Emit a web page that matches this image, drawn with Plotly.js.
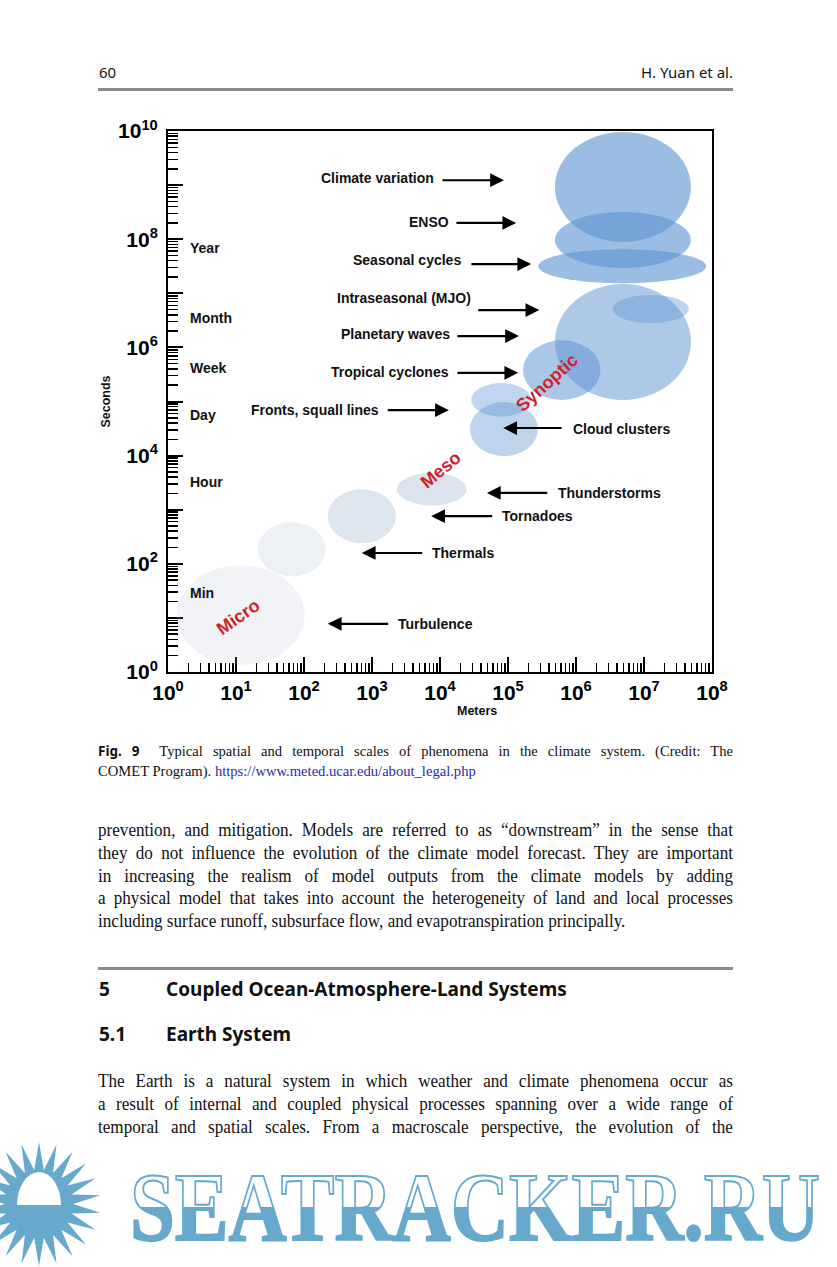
<!DOCTYPE html>
<html>
<head>
<meta charset="utf-8">
<script src="https://cdn.plot.ly/plotly-3.0.1.min.js"></script>
<style>
  html, body { margin:0; padding:0; background:#fff; }
  body { width:837px; height:1267px; position:relative; overflow:hidden; }
  #chart { position:absolute; left:0; top:0; width:837px; height:725px; }
  .abs { position:absolute; }
  .sans { font-family:"Noto Sans","Open Sans",sans-serif; color:#111; }
  .serif { font-family:"Liberation Serif","DejaVu Serif",serif; color:#111; }
  .rule { position:absolute; left:98px; width:635px; height:3px; background:#8a8a8a; }
  .jl { text-align:justify; text-align-last:justify; white-space:nowrap; }
  .para { transform:scaleX(0.9); transform-origin:0 0; width:705.5px; }
  .para div { height:22.75px; line-height:22.75px; }
</style>
</head>
<body>
<div class="abs sans" style="left:99px; top:62px; font-size:15px;">60</div>
<div class="abs sans" style="right:104px; top:62px; font-size:15px;">H. Yuan et al.</div>
<div class="rule" style="top:88px;"></div>

<div id="chart"></div>

<div class="abs serif" style="left:98px; top:741px; width:635px; font-size:14.6px; line-height:20px;">
  <div class="jl" style="white-space:normal;"><span class="sans" style="font-weight:bold; font-size:13.5px;">Fig. 9</span>&nbsp; Typical spatial and temporal scales of phenomena in the climate system. (Credit: The</div>
  <div>COMET Program). <span style="color:#2a2aa8;">https://www.meted.ucar.edu/about_legal.php</span></div>
</div>

<div class="abs serif para" style="left:98px; top:819px; font-size:19px;">
  <div class="jl">prevention, and mitigation. Models are referred to as “downstream” in the sense that</div>
  <div class="jl">they do not influence the evolution of the climate model forecast. They are important</div>
  <div class="jl">in increasing the realism of model outputs from the climate models by adding</div>
  <div class="jl">a physical model that takes into account the heterogeneity of land and local processes</div>
  <div>including surface runoff, subsurface flow, and evapotranspiration principally.</div>
</div>

<div class="rule" style="top:967px;"></div>
<div class="abs sans" style="left:99px; top:976px; font-size:19px; font-weight:bold;">5</div>
<div class="abs sans" style="left:166px; top:976px; font-size:19px; font-weight:bold;">Coupled Ocean-Atmosphere-Land Systems</div>
<div class="abs sans" style="left:99px; top:1021px; font-size:19px; font-weight:bold;">5.1</div>
<div class="abs sans" style="left:166px; top:1021px; font-size:19px; font-weight:bold;">Earth System</div>

<div class="abs serif para" style="left:98px; top:1070px; font-size:19px;">
  <div class="jl">The Earth is a natural system in which weather and climate phenomena occur as</div>
  <div class="jl">a result of internal and coupled physical processes spanning over a wide range of</div>
  <div class="jl">temporal and spatial scales. From a macroscale perspective, the evolution of the</div>
</div>

<svg class="abs" style="left:0; top:1140px;" width="837" height="127" id="wm">
  <defs>
    <linearGradient id="half" x1="0" y1="0" x2="0" y2="1">
      <stop offset="0.5" stop-color="#ffffff"/>
      <stop offset="0.5" stop-color="#66a9cd"/>
    </linearGradient>
  </defs>
  <g id="sun"></g>
  <text x="130" y="100" font-family="Liberation Serif, serif" font-weight="bold" font-size="98"
        textLength="690" lengthAdjust="spacingAndGlyphs"
        fill="url(#half)" stroke="#66a9cd" stroke-width="2">SEATRACKER.RU</text>
</svg>

<script>
// ---------- DATA ----------
const xTickExponents = [0, 1, 2, 3, 4, 5, 6, 7, 8];          // Meters: 10^0 .. 10^8
const yTickExponents = [0, 1, 2, 3, 4, 5, 6, 7, 8, 9, 10];   // Seconds: 10^0 .. 10^10
const yLabelledExponents = [0, 2, 4, 6, 8, 10];

const phenomena = ['Climate variation', 'ENSO', 'Seasonal cycles', 'Planetary waves',
  'Intraseasonal (MJO)', 'Tropical cyclones', 'Fronts, squall lines', 'Cloud clusters',
  'Thunderstorms', 'Tornadoes', 'Thermals', 'Turbulence'];
// log10(meters) centre and half-span, log10(seconds) centre and half-span
const logLengthCenter   = [6.69, 6.69, 6.68, 6.69, 7.10, 5.79, 4.90, 4.94, 3.88, 2.85, 1.82, 1.07];
const logLengthHalfSpan = [1.00, 1.00, 1.235, 1.00, 0.56, 0.57, 0.44, 0.50, 0.515, 0.50, 0.50, 0.94];
const logTimeCenter     = [8.965, 7.985, 7.50, 6.10, 6.71, 5.58, 5.03, 4.49, 3.38, 2.88, 2.27, 1.05];
const logTimeHalfSpan   = [1.017, 0.518, 0.314, 1.07, 0.26, 0.55, 0.31, 0.50, 0.30, 0.50, 0.50, 0.92];

const timeUnits = ['Year', 'Month', 'Week', 'Day', 'Hour', 'Min'];
const scaleRegimes = ['Micro', 'Meso', 'Synoptic'];

// ---------- STYLES / LABEL PLACEMENT ----------
const ellipseFill = ['rgba(93,148,210,0.62)', 'rgba(93,148,210,0.62)', 'rgba(93,148,210,0.62)',
  'rgba(93,148,210,0.50)', 'rgba(93,148,210,0.40)', 'rgba(93,148,210,0.52)',
  'rgba(93,148,210,0.38)', 'rgba(93,148,210,0.40)', 'rgba(150,175,210,0.35)',
  'rgba(150,175,205,0.32)', 'rgba(170,185,210,0.21)', 'rgba(170,185,210,0.17)'];
// label anchor (log m, log s), side of text relative to anchor, arrow tail/head (log m)
const labelX    = [3.94, 4.16, 4.34, 4.18, 4.49, 4.16, 3.13, 5.93, 5.71, 4.88, 3.85, 3.35];
const labelY    = [9.13, 8.32, 7.62, 6.24, 6.91, 5.55, 4.84, 4.49, 3.31, 2.88, 2.20, 0.89];
const labelSide = ['right','right','right','right','right','right','right','left','left','left','left','left'];
const arrowTailX = [4.015, 4.22, 4.44, 4.235, 4.54, 4.235, 3.21, 5.81, 5.60, 4.79, 3.76, 3.26];
const arrowHeadX = [4.94, 5.12, 5.34, 5.16, 5.46, 5.15, 4.13, 4.93, 4.69, 3.87, 2.85, 2.35];
const arrowY     = [9.09, 8.30, 7.54, 6.21, 6.69, 5.53, 4.84, 4.51, 3.31, 2.88, 2.20, 0.89];
const unitY = [7.84, 6.54, 5.62, 4.75, 3.51, 1.46];
const regimeX = [1.03, 4.01, 5.57], regimeY = [1.02, 3.73, 5.34], regimeAngle = [-35, -40, -42];

const sup = e => '10<sup>' + e + '</sup>';
function minorVals(exps) {
  const v = [];
  exps.slice(0, -1).forEach(e => { for (let d = 2; d <= 9; d++) v.push(d * Math.pow(10, e)); });
  return v;
}

const shapes = phenomena.map((p, i) => ({
  type: 'circle', xref: 'x', yref: 'y', layer: 'above',
  x0: Math.pow(10, logLengthCenter[i] - logLengthHalfSpan[i]),
  x1: Math.pow(10, logLengthCenter[i] + logLengthHalfSpan[i]),
  y0: Math.pow(10, logTimeCenter[i] - logTimeHalfSpan[i]),
  y1: Math.pow(10, logTimeCenter[i] + logTimeHalfSpan[i]),
  fillcolor: ellipseFill[i], line: { width: 0 }
}));

const labFont = { family: 'Liberation Sans, Arial, sans-serif', size: 14, color: '#111' };
const annotations = [];
phenomena.forEach((p, i) => {
  annotations.push({ x: labelX[i], y: labelY[i], xref: 'x', yref: 'y', text: '<b>' + p + '</b>',
    showarrow: false, xanchor: labelSide[i], yanchor: 'middle', font: labFont });
  annotations.push({ x: arrowHeadX[i], y: arrowY[i], ax: arrowTailX[i], ay: arrowY[i],
    xref: 'x', yref: 'y', axref: 'x', ayref: 'y', text: '', showarrow: true,
    arrowhead: 2, arrowsize: 1.25, arrowwidth: 2.2, arrowcolor: '#000', standoff: 0 });
});
timeUnits.forEach((u, i) => annotations.push({ x: 0.29, y: unitY[i], xref: 'x', yref: 'y',
  text: '<b>' + u + '</b>', showarrow: false, xanchor: 'left', font: labFont }));
scaleRegimes.forEach((r, i) => annotations.push({ x: regimeX[i], y: regimeY[i], xref: 'x', yref: 'y',
  text: '<b>' + r + '</b>', showarrow: false, textangle: regimeAngle[i],
  font: { family: 'Liberation Sans, Arial, sans-serif', size: 18, color: '#d21f2b' } }));
annotations.push({ x: 0.568, y: -0.088, xref: 'paper', yref: 'paper', text: '<b>Meters</b>',
  showarrow: false, font: { family: 'Liberation Sans, Arial, sans-serif', size: 12.5, color: '#111' } });

const tickFont = { family: 'Liberation Sans, Arial, sans-serif', size: 21, color: '#000', weight: 'bold' };
const axisCommon = {
  type: 'log', showline: true, linecolor: '#000', linewidth: 2, mirror: true,
  showgrid: false, zeroline: false, ticks: 'inside', ticklen: 15, tickwidth: 2, tickcolor: '#000',
  tickmode: 'array', tickfont: tickFont, fixedrange: true
};

const layout = {
  width: 837, height: 725,
  margin: { l: 168, r: 125, t: 131, b: 53 },
  paper_bgcolor: 'rgba(0,0,0,0)', plot_bgcolor: '#fff',
  showlegend: false,
  xaxis: Object.assign({}, axisCommon, {
    range: [0, 8], tickvals: xTickExponents.map(e => Math.pow(10, e)),
    ticktext: xTickExponents.map(sup), ticklabelstandoff: 1,
    minor: { tickmode: 'array', tickvals: minorVals(xTickExponents), ticks: 'inside',
      ticklen: 9, tickwidth: 1.5, tickcolor: '#000', showgrid: false }
  }),
  yaxis: Object.assign({}, axisCommon, {
    range: [0, 10], tickvals: yTickExponents.map(e => Math.pow(10, e)),
    ticktext: yTickExponents.map(e => yLabelledExponents.includes(e) ? sup(e) : ''),
    ticklabelstandoff: 4,
    title: { text: '<b>Seconds</b>', standoff: 5,
      font: { family: 'Liberation Sans, Arial, sans-serif', size: 12.5, color: '#111' } },
    minor: { tickmode: 'array', tickvals: minorVals(yTickExponents), ticks: 'inside',
      ticklen: 10, tickwidth: 1.5, tickcolor: '#000', showgrid: false }
  }),
  shapes: shapes,
  annotations: annotations
};

const trace = {
  type: 'scatter', mode: 'markers',
  x: logLengthCenter.map(v => Math.pow(10, v)),
  y: logTimeCenter.map(v => Math.pow(10, v)),
  text: phenomena, marker: { size: 1, opacity: 0 }, hoverinfo: 'text'
};

Plotly.newPlot('chart', [trace], layout, { staticPlot: true, displayModeBar: false });

// watermark sun
(function () {
  const g = document.getElementById('sun');
  const cx = 39, cy = 64, R = 62, r = 34, n = 22;
  let pts = [];
  for (let k = 0; k < 2 * n; k++) {
    const a = Math.PI * k / n - Math.PI / 2;
    const rad = k % 2 === 0 ? R : r;
    pts.push((cx + rad * Math.cos(a)).toFixed(1) + ',' + (cy + rad * Math.sin(a)).toFixed(1));
  }
  g.innerHTML = '<polygon points="' + pts.join(' ') + '" fill="#66a9cd"/>' +
    '<path d="M17,65 A22,33 0 0 1 61,65 Z" fill="#fff"/>';
})();
</script>
</body>
</html>
